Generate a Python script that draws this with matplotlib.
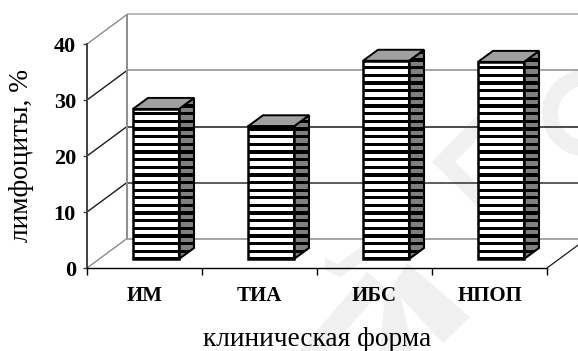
import matplotlib
matplotlib.use("Agg")
import matplotlib.pyplot as plt
from matplotlib.patches import Polygon, Rectangle, Wedge
from matplotlib.transforms import Affine2D

categories = ["ИМ", "ТИА", "ИБС", "НПОП"]
values = [26.8, 23.7, 35.4, 35.2]
y_ticks = [0, 10, 20, 30, 40]
grid_colors = ["#8c8c8c", "#1a1a1a", "#1a1a1a", "#1a1a1a", "#8c8c8c"]
wall_colors = ["#8c8c8c", "#303030", "#1a1a1a", "#8c8c8c", "#a6a6a6"]

W, H = 578, 351
LEFT, RIGHT, TOP, BOTTOM = 87, 547, 44, 268
UX = (RIGHT - LEFT) / len(categories)   # pixels per category
UY = (BOTTOM - TOP) / 40                # pixels per percent

DEPTH_X = 40 / UX        # wall depth in axis units
DEPTH_Y = 29.5 / UY
BAR_W = 46 / UX
BAR_X0 = 46 / UX         # left edge of the first bar inside its slot
BAR_Y0 = 9 / UY          # bars stand slightly in front of the floor edge
BAR_DX = 15 / UX         # bar depth
BAR_DY = 11 / UY
STRIPE_PERIOD = 7.65 / UY
STRIPE_H = 3.3 / UY

plt.rcParams["font.family"] = ["Liberation Serif", "DejaVu Serif"]
fig = plt.figure(figsize=(W / 100, H / 100), dpi=100, facecolor="white")
ax = fig.add_axes([LEFT / W, 1 - BOTTOM / H, (RIGHT - LEFT) / W, (BOTTOM - TOP) / H])
ax.set_xlim(0, len(categories))
ax.set_ylim(0, 40)
ax.patch.set_visible(False)

# Faint diagonal stamp behind the plot, placed in figure pixels
to_px = Affine2D().scale(1, -1).translate(0, H) + Affine2D().scale(1 / W, 1 / H) + fig.transFigure
stamp = "#f0f0f0"
stamp_shapes = [
    [(300, 351), (327, 351), (385, 287), (367, 272)],
    [(380, 351), (413, 351), (398, 285), (385, 295)],
    [(407, 263), (470, 317), (443, 343), (392, 288)],
    [(325, 258), (338, 264), (362, 246), (362, 262), (340, 277), (325, 270)],
    [(432, 162), (492, 100), (503, 112), (455, 162), (525, 232), (525, 253)],
]
for pts in stamp_shapes:
    fig.add_artist(Polygon(pts, closed=True, fc=stamp, ec="none", transform=to_px, zorder=-5))
fig.add_artist(Wedge((585, 113), 43, 0, 360, width=16, fc=stamp, ec="none", transform=to_px, zorder=-5))

# Side wall lines and back wall of the 3-D frame
line_kw = dict(clip_on=False, solid_capstyle="butt")
for y, gc, wc in zip(y_ticks, grid_colors, wall_colors):
    ax.plot([0, DEPTH_X], [y, y + DEPTH_Y], color=gc, lw=1.0, zorder=1, **line_kw)
    ax.plot([DEPTH_X, len(categories) + DEPTH_X], [y + DEPTH_Y] * 2, color=wc, lw=1.1, zorder=1, **line_kw)
ax.plot([DEPTH_X, DEPTH_X], [DEPTH_Y, 40 + DEPTH_Y], color="#8c8c8c", lw=1.4, zorder=1, **line_kw)
ax.plot([len(categories), len(categories) + DEPTH_X], [0, DEPTH_Y], color="#1a1a1a", lw=0.9, zorder=1, **line_kw)


def stripes(x0, width, top, face):
    """Black horizontal bands over one bar face, clipped to that face."""
    y = BAR_Y0 - STRIPE_H / 2
    while y < top + BAR_DY:
        band = Rectangle((x0, y), width, STRIPE_H, fc="black", ec="none", zorder=3)
        ax.add_patch(band)
        band.set_clip_path(face)
        y += STRIPE_PERIOD


for i, value in enumerate(values):
    x1 = i + BAR_X0
    x2 = x1 + BAR_W
    top = BAR_Y0 + value

    side = Polygon([(x2, BAR_Y0), (x2 + BAR_DX, BAR_Y0 + BAR_DY),
                    (x2 + BAR_DX, top + BAR_DY), (x2, top)],
                   fc="#7f7f7f", ec="none", zorder=2, clip_on=False)
    ax.add_patch(side)
    stripes(x2, BAR_DX, top, side)
    ax.add_patch(Polygon(side.get_xy(), fill=False, ec="black", lw=1.5, zorder=4, clip_on=False))

    lid = Polygon([(x1, top), (x2, top), (x2 + BAR_DX, top + BAR_DY), (x1 + BAR_DX, top + BAR_DY)],
                  fc="#a0a0a0", ec="black", lw=1.4, zorder=4, clip_on=False)
    ax.add_patch(lid)

    front = Rectangle((x1, BAR_Y0), BAR_W, value, fc="white", ec="none", zorder=2)
    ax.add_patch(front)
    stripes(x1, BAR_W, top, front)
    ax.add_patch(Rectangle((x1, BAR_Y0), BAR_W, value, fill=False, ec="black", lw=1.8, zorder=4))

# Axes, ticks and labels
for name in ("top", "right"):
    ax.spines[name].set_visible(False)
ax.spines["left"].set_color("#404040")
ax.spines["left"].set_linewidth(1.4)
ax.spines["bottom"].set_color("black")
ax.spines["bottom"].set_linewidth(1.0)

ax.set_yticks(y_ticks)
ax.set_yticklabels([str(v) for v in y_ticks], fontsize=16, fontweight="bold")
ax.tick_params(axis="y", length=3, width=1, color="#404040", pad=5)
ax.set_xticks(range(len(categories) + 1))
ax.set_xticklabels([])
ax.set_xticks([i + 0.5 for i in range(len(categories))], minor=True)
ax.set_xticklabels(categories, minor=True, fontsize=15, fontweight="bold")
ax.tick_params(axis="x", which="major", length=5, width=1, color="black")
ax.tick_params(axis="x", which="minor", length=0, pad=13)

fig.text(22 / W, 1 - 155 / H, "лимфоциты, %", rotation=90, ha="center", va="center", fontsize=19.7)
fig.text(317 / W, 1 - 340 / H, "клиническая форма", ha="center", va="center", fontsize=19.7)

fig.savefig("out.png", dpi=100, facecolor="white")
